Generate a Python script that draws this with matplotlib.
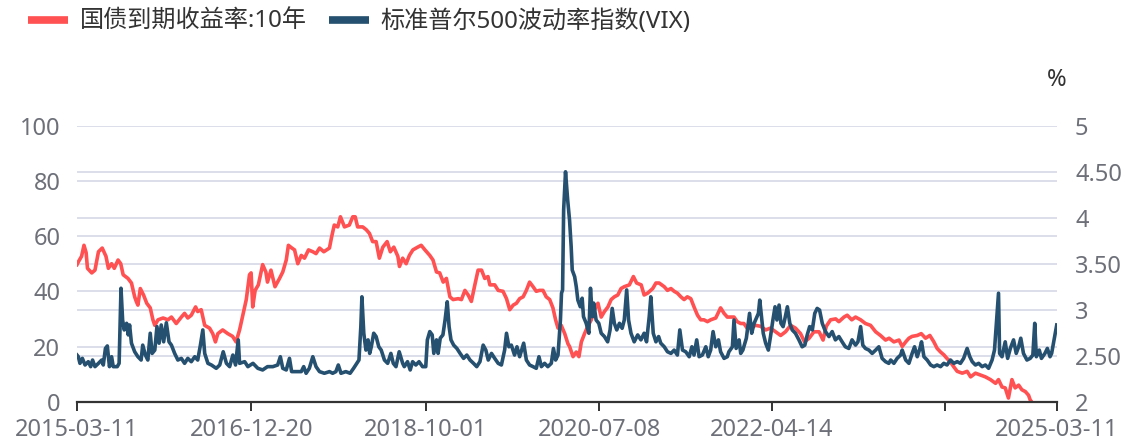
import matplotlib
matplotlib.use("Agg")
import matplotlib.pyplot as plt
import pandas as pd
from matplotlib.lines import Line2D

plt.rcParams["font.family"] = ["Noto Sans", "Noto Sans CJK SC", "DejaVu Sans"]

# China government bond yield, 10Y (%), right axis
yield_dates = [
    "2015-03-11", "2015-03-16", "2015-03-28", "2015-04-06", "2015-04-14", "2015-04-19",
    "2015-05-05", "2015-05-17", "2015-05-30", "2015-06-13", "2015-06-27", "2015-07-06",
    "2015-07-18", "2015-07-28", "2015-08-11", "2015-08-21", "2015-08-30", "2015-09-17",
    "2015-09-30", "2015-10-12", "2015-10-18", "2015-10-24", "2015-11-02", "2015-11-14",
    "2015-11-26", "2015-12-09", "2015-12-19", "2015-12-26",
    "2016-01-07", "2016-01-26", "2016-02-13", "2016-02-26", "2016-03-15", "2016-04-03",
    "2016-04-15", "2016-04-27", "2016-05-10", "2016-05-26", "2016-06-03", "2016-06-16",
    "2016-06-29", "2016-07-17", "2016-07-29", "2016-08-08", "2016-08-17", "2016-09-04",
    "2016-09-23", "2016-10-11", "2016-10-24", "2016-11-06", "2016-11-18", "2016-12-01",
    "2016-12-13", "2016-12-19", "2016-12-25",
    "2017-01-03", "2017-01-15", "2017-01-31", "2017-02-12", "2017-02-18", "2017-03-03",
    "2017-03-18", "2017-04-04", "2017-04-16", "2017-04-29", "2017-05-07", "2017-05-20",
    "2017-05-30", "2017-06-11", "2017-06-24", "2017-07-06", "2017-07-21", "2017-08-06",
    "2017-08-18", "2017-08-31", "2017-09-16", "2017-10-07", "2017-10-15", "2017-10-25",
    "2017-11-07", "2017-11-17", "2017-12-02", "2017-12-20",
    "2018-01-02", "2018-01-11", "2018-01-20", "2018-02-08", "2018-02-21", "2018-03-05",
    "2018-03-17", "2018-03-30", "2018-04-11", "2018-04-24", "2018-05-10", "2018-05-22",
    "2018-06-04", "2018-06-19", "2018-06-25", "2018-07-07", "2018-07-20", "2018-08-01",
    "2018-08-14", "2018-09-01", "2018-09-14", "2018-09-28", "2018-10-16", "2018-10-28",
    "2018-11-10", "2018-11-22", "2018-12-05", "2018-12-17", "2018-12-30",
    "2019-01-11", "2019-01-30", "2019-02-11", "2019-02-24", "2019-03-08", "2019-03-20",
    "2019-04-02", "2019-04-14", "2019-04-27", "2019-05-09", "2019-05-21", "2019-05-28",
    "2019-06-15", "2019-06-28", "2019-07-16", "2019-07-29", "2019-08-10", "2019-08-23",
    "2019-09-04", "2019-09-16", "2019-09-29", "2019-10-11", "2019-10-23", "2019-11-05",
    "2019-11-17", "2019-11-29", "2019-12-12", "2019-12-24",
    "2020-01-06", "2020-01-18", "2020-01-28", "2020-02-06", "2020-02-18", "2020-03-02",
    "2020-03-14", "2020-03-20", "2020-04-02", "2020-04-14", "2020-04-24", "2020-05-03",
    "2020-05-15", "2020-05-27", "2020-06-09", "2020-06-21", "2020-07-04", "2020-07-16",
    "2020-07-28", "2020-08-10", "2020-08-22", "2020-09-03", "2020-09-16", "2020-09-28",
    "2020-10-10", "2020-10-29", "2020-11-13", "2020-11-25", "2020-12-12", "2020-12-23",
    "2021-01-05", "2021-01-24", "2021-02-05", "2021-02-17", "2021-03-08", "2021-03-20",
    "2021-04-02", "2021-04-14", "2021-04-26", "2021-05-09", "2021-05-21", "2021-06-02",
    "2021-06-15", "2021-06-27", "2021-07-10", "2021-07-22", "2021-08-03", "2021-08-16",
    "2021-08-28", "2021-09-16", "2021-10-04", "2021-10-17", "2021-10-29", "2021-11-04",
    "2021-11-23", "2021-12-05", "2021-12-18", "2021-12-30",
    "2022-01-11", "2022-01-24", "2022-02-11", "2022-03-02", "2022-03-21", "2022-04-08",
    "2022-04-27", "2022-05-16", "2022-06-03", "2022-06-22", "2022-07-10", "2022-07-29",
    "2022-08-13", "2022-08-30", "2022-09-17", "2022-10-06", "2022-10-21", "2022-11-02",
    "2022-11-18", "2022-12-07", "2022-12-19",
    "2023-01-07", "2023-01-19", "2023-02-05", "2023-02-19", "2023-03-10", "2023-03-28",
    "2023-04-16", "2023-05-05", "2023-05-23", "2023-06-11", "2023-06-24", "2023-07-12",
    "2023-07-31", "2023-08-12", "2023-08-25", "2023-09-06", "2023-09-18", "2023-10-07",
    "2023-10-22", "2023-11-07", "2023-11-23", "2023-12-08", "2023-12-20",
    "2024-01-02", "2024-01-14", "2024-01-26", "2024-02-08", "2024-02-20", "2024-03-04",
    "2024-03-23", "2024-04-10", "2024-04-23", "2024-05-11", "2024-05-30", "2024-06-17",
    "2024-07-06", "2024-07-25", "2024-08-05", "2024-08-18", "2024-08-30", "2024-09-11",
    "2024-09-24", "2024-10-06", "2024-10-19", "2024-10-31", "2024-11-13", "2024-11-25",
    "2024-12-01", "2024-12-06",
]
yield_values = [
    3.49, 3.52, 3.58, 3.70, 3.62, 3.45,
    3.40, 3.43, 3.63, 3.67, 3.58, 3.45,
    3.50, 3.45, 3.54, 3.50, 3.38, 3.34,
    3.29, 3.14, 3.09, 3.05, 3.23, 3.16,
    3.07, 3.02, 2.89, 2.83,
    2.89, 2.91, 2.89, 2.92, 2.85, 2.92,
    2.96, 2.91, 2.94, 3.03, 2.98, 3.00,
    2.83, 2.80, 2.74, 2.65, 2.74, 2.78,
    2.74, 2.71, 2.65, 2.78, 2.94, 3.11,
    3.38, 3.40, 3.03,
    3.21, 3.27, 3.49, 3.41, 3.30, 3.43,
    3.25, 3.34, 3.41, 3.54, 3.70, 3.67,
    3.65, 3.50, 3.59, 3.56, 3.65, 3.63,
    3.61, 3.67, 3.63, 3.67, 3.79, 3.92,
    3.90, 4.01, 3.90, 3.92,
    4.01, 4.01, 3.90, 3.90, 3.87, 3.83,
    3.74, 3.74, 3.56, 3.68, 3.74, 3.63,
    3.68, 3.58, 3.47, 3.56, 3.50, 3.59,
    3.65, 3.68, 3.70, 3.65, 3.59, 3.54,
    3.41, 3.40, 3.30, 3.34, 3.14,
    3.11, 3.12, 3.11, 3.21, 3.16, 3.09,
    3.27, 3.43, 3.43, 3.34, 3.36, 3.27,
    3.27, 3.21, 3.20, 3.12, 3.00, 3.05,
    3.07, 3.12, 3.14, 3.21, 3.30, 3.25,
    3.20, 3.21, 3.21, 3.14,
    3.11, 3.02, 2.89, 2.80, 2.83, 2.74,
    2.63, 2.60, 2.49, 2.54, 2.49, 2.65,
    2.74, 2.82, 2.89, 3.00, 3.07, 2.92,
    2.98, 3.03, 3.11, 3.14, 3.16, 3.23,
    3.25, 3.27, 3.36, 3.29, 3.27, 3.16,
    3.18, 3.23, 3.29, 3.29, 3.25, 3.21,
    3.23, 3.20, 3.18, 3.14, 3.11, 3.14,
    3.12, 3.03, 2.94, 2.89, 2.89, 2.87,
    2.89, 2.91, 3.02, 2.96, 2.92, 2.92,
    2.92, 2.87, 2.85, 2.85,
    2.80, 2.80, 2.83, 2.82, 2.78, 2.80,
    2.76, 2.72, 2.76, 2.83, 2.80, 2.74,
    2.65, 2.69, 2.76, 2.76, 2.67, 2.82,
    2.89, 2.90, 2.87,
    2.92, 2.94, 2.89, 2.92, 2.89, 2.85,
    2.83, 2.76, 2.72, 2.67, 2.69, 2.65,
    2.67, 2.60, 2.65, 2.69, 2.71, 2.72,
    2.74, 2.69, 2.72, 2.65, 2.58,
    2.54, 2.51, 2.47, 2.43, 2.38, 2.33,
    2.31, 2.33, 2.27, 2.31, 2.29, 2.27,
    2.24, 2.20, 2.24, 2.16, 2.15, 2.04,
    2.24, 2.15, 2.18, 2.13, 2.11, 2.07,
    2.02, 2.00,
]

# CBOE S&P 500 volatility index, left axis
vix_dates = [
    "2015-03-11", "2015-03-16", "2015-03-22", "2015-03-31", "2015-04-10", "2015-04-22",
    "2015-05-01", "2015-05-08", "2015-05-17", "2015-05-30", "2015-06-11", "2015-06-17",
    "2015-06-25", "2015-07-02", "2015-07-10", "2015-07-18", "2015-07-24", "2015-08-08",
    "2015-08-15", "2015-08-22", "2015-08-28", "2015-09-03", "2015-09-12", "2015-09-18",
    "2015-09-23", "2015-09-30", "2015-10-12", "2015-10-24", "2015-11-05", "2015-11-11",
    "2015-11-21", "2015-11-30", "2015-12-09", "2015-12-16", "2015-12-26",
    "2016-01-03", "2016-01-11", "2016-01-19", "2016-01-28", "2016-02-07", "2016-02-17",
    "2016-02-26", "2016-03-09", "2016-03-21", "2016-04-03", "2016-04-15", "2016-04-27",
    "2016-05-10", "2016-05-23", "2016-06-03", "2016-06-13", "2016-06-22", "2016-06-29",
    "2016-07-11", "2016-07-24", "2016-08-11", "2016-08-24", "2016-09-06", "2016-09-18",
    "2016-09-30", "2016-10-12", "2016-10-22", "2016-11-01", "2016-11-06", "2016-11-25",
    "2016-12-07", "2016-12-26",
    "2017-01-13", "2017-01-31", "2017-02-18", "2017-03-10", "2017-03-28", "2017-04-07",
    "2017-04-16", "2017-04-29", "2017-05-11", "2017-05-19", "2017-06-05", "2017-06-24",
    "2017-07-03", "2017-07-12", "2017-07-24", "2017-08-06", "2017-08-18", "2017-08-31",
    "2017-09-18", "2017-10-07", "2017-10-19", "2017-10-31", "2017-11-09", "2017-11-19",
    "2017-12-07", "2017-12-23",
    "2018-01-05", "2018-01-25", "2018-02-01", "2018-02-05", "2018-02-12", "2018-02-20",
    "2018-02-28", "2018-03-06", "2018-03-12", "2018-03-21", "2018-03-30", "2018-04-09",
    "2018-04-18", "2018-04-30", "2018-05-12", "2018-05-24", "2018-06-02", "2018-06-12",
    "2018-06-24", "2018-07-07", "2018-07-13", "2018-07-25", "2018-08-04", "2018-08-13",
    "2018-08-25", "2018-09-06", "2018-09-19", "2018-10-01", "2018-10-07", "2018-10-16",
    "2018-10-25", "2018-10-31", "2018-11-10", "2018-11-16", "2018-11-24", "2018-12-04",
    "2018-12-12", "2018-12-20", "2018-12-27",
    "2019-01-03", "2019-01-13", "2019-01-25", "2019-02-06", "2019-02-19", "2019-03-03",
    "2019-03-15", "2019-03-28", "2019-04-09", "2019-04-21", "2019-05-03", "2019-05-13",
    "2019-05-22", "2019-06-03", "2019-06-15", "2019-06-28", "2019-07-10", "2019-07-22",
    "2019-07-29", "2019-08-07", "2019-08-16", "2019-08-28", "2019-09-06", "2019-09-16",
    "2019-10-01", "2019-10-11", "2019-10-23", "2019-11-05", "2019-11-17", "2019-11-27",
    "2019-12-06", "2019-12-18", "2019-12-30",
    "2020-01-12", "2020-01-20", "2020-01-28", "2020-02-06", "2020-02-15", "2020-02-19",
    "2020-02-23", "2020-02-27", "2020-03-05", "2020-03-13", "2020-03-20", "2020-03-26",
    "2020-03-30", "2020-04-08", "2020-04-14", "2020-04-20", "2020-04-29", "2020-05-06",
    "2020-05-11", "2020-05-21", "2020-05-31", "2020-06-06", "2020-06-13", "2020-06-18",
    "2020-06-27", "2020-07-07", "2020-07-16", "2020-07-28", "2020-08-09", "2020-08-18",
    "2020-08-26", "2020-09-03", "2020-09-12", "2020-09-22", "2020-10-02", "2020-10-10",
    "2020-10-19", "2020-10-26", "2020-11-04", "2020-11-16", "2020-11-29", "2020-12-11",
    "2020-12-23",
    "2021-01-01", "2021-01-11", "2021-01-17", "2021-01-26", "2021-02-05", "2021-02-15",
    "2021-02-23", "2021-03-08", "2021-03-20", "2021-04-02", "2021-04-14", "2021-04-26",
    "2021-05-05", "2021-05-15", "2021-05-27", "2021-06-09", "2021-06-19", "2021-06-27",
    "2021-07-07", "2021-07-16", "2021-07-28", "2021-08-10", "2021-08-19", "2021-08-28",
    "2021-09-06", "2021-09-16", "2021-09-26", "2021-10-04", "2021-10-17", "2021-10-29",
    "2021-11-04", "2021-11-17", "2021-11-23", "2021-12-01", "2021-12-12", "2021-12-18",
    "2021-12-26",
    "2022-01-08", "2022-01-20", "2022-01-28", "2022-02-06", "2022-02-14", "2022-02-22",
    "2022-02-27", "2022-03-06", "2022-03-12", "2022-03-21", "2022-03-31", "2022-04-08",
    "2022-04-17", "2022-04-25", "2022-05-02", "2022-05-10", "2022-05-17", "2022-05-25",
    "2022-06-01", "2022-06-10", "2022-06-19", "2022-06-28", "2022-07-10", "2022-07-23",
    "2022-08-04", "2022-08-14", "2022-08-23", "2022-09-01", "2022-09-11", "2022-09-20",
    "2022-09-29", "2022-10-08", "2022-10-18", "2022-10-30", "2022-11-12", "2022-11-24",
    "2022-12-06", "2022-12-19", "2022-12-31",
    "2023-01-12", "2023-01-25", "2023-02-06", "2023-02-19", "2023-02-28", "2023-03-10",
    "2023-03-18", "2023-03-28", "2023-04-10", "2023-04-22", "2023-05-05", "2023-05-17",
    "2023-05-29", "2023-06-11", "2023-06-23", "2023-06-30", "2023-07-12", "2023-07-24",
    "2023-08-06", "2023-08-12", "2023-08-25", "2023-09-06", "2023-09-18", "2023-09-27",
    "2023-10-07", "2023-10-17", "2023-10-23", "2023-11-01", "2023-11-13", "2023-11-26",
    "2023-12-08", "2023-12-20",
    "2024-01-02", "2024-01-14", "2024-01-26", "2024-02-08", "2024-02-20", "2024-03-04",
    "2024-03-16", "2024-03-28", "2024-04-10", "2024-04-20", "2024-04-29", "2024-05-11",
    "2024-05-23", "2024-06-05", "2024-06-17", "2024-06-29", "2024-07-12", "2024-07-21",
    "2024-08-05", "2024-08-09", "2024-08-18", "2024-08-30", "2024-09-08", "2024-09-18",
    "2024-09-30", "2024-10-10", "2024-10-19", "2024-10-27", "2024-11-06", "2024-11-19",
    "2024-12-01", "2024-12-11", "2024-12-18", "2024-12-24",
    "2025-01-04", "2025-01-12", "2025-01-25", "2025-02-03", "2025-02-13", "2025-02-19",
    "2025-02-28", "2025-03-10",
]
vix_values = [
    16.9, 16.3, 13.9, 15.7, 13.3, 14.5,
    12.7, 15.1, 12.7, 13.9, 15.1, 13.3,
    19.3, 20.2, 12.7, 16.3, 12.7, 12.7,
    13.9, 41.1, 29.6, 26.0, 28.4, 24.2,
    27.8, 21.2, 18.1, 16.3, 15.1, 20.5,
    16.9, 15.1, 24.8, 17.5, 18.7,
    27.2, 21.2, 27.8, 21.7, 28.6, 21.7,
    20.5, 17.5, 15.1, 15.7, 13.9, 15.7,
    14.5, 16.3, 15.1, 20.5, 26.0, 17.5,
    13.9, 13.3, 12.1, 13.3, 18.1, 13.9,
    12.7, 16.9, 13.3, 22.4, 13.9, 14.5,
    12.7, 13.9,
    12.1, 11.5, 12.7, 12.7, 13.3, 16.3,
    12.1, 11.5, 15.7, 10.9, 10.9, 10.9,
    12.7, 10.3, 12.1, 16.3, 12.7, 10.9,
    10.3, 10.9, 10.3, 10.9, 13.3, 10.3,
    10.9, 10.3,
    12.1, 15.1, 27.2, 38.0, 24.8, 18.7,
    22.4, 17.5, 19.9, 24.8, 23.6, 19.9,
    18.7, 15.1, 13.9, 17.5, 13.9, 12.7,
    18.1, 13.9, 12.7, 14.5, 11.5, 14.5,
    13.3, 14.5, 12.7, 12.7, 22.4, 25.4,
    24.2, 17.5, 22.4, 17.5, 23.0, 24.2,
    29.6, 36.2, 27.2,
    22.4, 20.5, 19.3, 17.5, 15.7, 16.9,
    15.1, 13.9, 12.7, 14.5, 20.5, 18.7,
    15.1, 17.5, 15.7, 13.9, 13.3, 18.7,
    24.8, 19.9, 20.5, 16.9, 19.9, 16.3,
    21.2, 15.1, 13.3, 12.7, 12.1, 16.3,
    12.7, 13.9, 12.7,
    13.9, 19.3, 15.1, 16.9, 29.6, 39.3,
    40.5, 69.5, 83.3, 73.1, 65.8, 56.2,
    47.7, 45.3, 41.7, 36.8, 34.4, 37.5,
    30.8, 28.4, 24.8, 41.1, 30.8, 35.7,
    29.6, 28.4, 24.8, 23.6, 21.7, 26.0,
    33.8, 28.4, 26.0, 28.4, 26.6, 29.6,
    40.5, 29.6, 24.8, 21.7, 24.2, 22.4,
    24.8,
    21.7, 30.8, 38.0, 24.8, 21.7, 23.6,
    21.2, 19.9, 18.1, 17.5, 18.7, 16.9,
    26.0, 18.7, 18.1, 16.3, 19.9, 16.9,
    22.4, 16.3, 16.9, 19.9, 16.3, 18.7,
    25.4, 19.9, 22.4, 18.1, 15.7, 16.3,
    18.1, 19.9, 29.6, 19.3, 22.4, 17.5,
    18.7,
    23.0, 32.0, 24.8, 28.4, 30.2, 32.0,
    36.8, 30.2, 24.8, 21.2, 18.7, 23.6,
    29.6, 34.4, 29.6, 35.0, 28.4, 27.2,
    30.2, 34.4, 28.4, 26.0, 24.8, 22.4,
    19.9, 20.5, 24.2, 27.2, 26.0, 32.0,
    33.8, 33.2, 28.4, 25.4, 23.6, 25.4,
    22.4, 23.6, 21.7,
    19.9, 19.3, 22.4, 20.5, 21.7, 27.2,
    20.5, 19.3, 18.7, 17.5, 18.7, 19.9,
    15.7, 14.5, 13.9, 15.1, 13.9, 15.7,
    16.9, 18.7, 15.1, 13.9, 17.5, 19.9,
    16.3, 19.3, 21.7, 16.3, 15.1, 13.3,
    12.7, 13.3,
    12.7, 13.9, 13.3, 15.1, 13.9, 14.5,
    13.9, 15.7, 19.3, 16.3, 14.5, 13.3,
    13.9, 12.7, 13.3, 12.1, 15.1, 18.7,
    39.3, 17.5, 16.3, 21.7, 15.7, 19.3,
    22.4, 17.5, 19.9, 23.0, 17.5, 15.1,
    15.7, 16.9, 28.4, 16.3,
    18.7, 15.7, 17.5, 19.3, 16.3, 17.5,
    22.4, 27.8,
]

x_ticks = ["2015-03-11", "2016-12-20", "2018-10-01", "2020-07-08",
           "2022-04-14", "2024-01-20", "2025-03-11"]
x_tick_labels = ["2015-03-11", "2016-12-20", "2018-10-01", "2020-07-08",
                 "2022-04-14", "", "2025-03-11"]
vix_ticks = [0, 20, 40, 60, 80, 100]
yield_ticks = [2, 2.5, 3, 3.5, 4, 4.5, 5]
yield_tick_labels = ["2", "2.50", "3", "3.50", "4", "4.50", "5"]

series_names = ["国债到期收益率:10年", "标准普尔500波动率指数(VIX)"]

RED = "#FF5052"
BLUE = "#26506F"
GRID = "#DCDFEA"
LABEL = "#6E7079"
DARK = "#333333"
FS = 17

W, H = 1127, 441
fig = plt.figure(figsize=(W / 100, H / 100), dpi=100)
rect = [77 / W, 1 - 401.7 / H, 980 / W, 276 / H]

# base axes: left scale labels and its grid
ax = fig.add_axes(rect)
ax.set_ylim(0, 100)
ax.set_yticks(vix_ticks)
ax.yaxis.grid(True, color=GRID, linewidth=1.4)
ax.set_axisbelow(True)
ax.tick_params(axis="y", length=0, pad=12, labelsize=FS, labelcolor=LABEL)
for s in ax.spines.values():
    s.set_visible(False)

# right axis: 10Y yield
ax_r = ax.twinx()
ax_r.set_ylim(2, 5)
ax_r.set_yticks(yield_ticks)
ax_r.set_yticklabels(yield_tick_labels)
ax_r.yaxis.grid(True, color=GRID, linewidth=1.4)
ax_r.set_axisbelow(True)
ax_r.tick_params(axis="y", length=0, pad=13, labelsize=FS, labelcolor=LABEL)
for s in ax_r.spines.values():
    s.set_visible(False)
ax_r.plot(pd.to_datetime(yield_dates), yield_values, color=RED, linewidth=2.6,
          solid_joinstyle="round", zorder=3)

# top layer on the left scale: VIX line and the date axis
ax_b = ax.twinx()
ax_b.set_ylim(0, 100)
ax_b.yaxis.set_visible(False)
ax.xaxis.set_visible(False)
ax_b.xaxis.set_visible(True)
for name, s in ax_b.spines.items():
    s.set_visible(name == "bottom")
ax_b.spines["bottom"].set_color(DARK)
ax_b.spines["bottom"].set_linewidth(1.6)
ax_b.plot(pd.to_datetime(vix_dates), vix_values, color=BLUE, linewidth=2.6,
          solid_joinstyle="round", zorder=3)

ax_b.set_xlim(pd.Timestamp("2015-03-11"), pd.Timestamp("2025-03-11"))
ax_b.set_xticks(pd.to_datetime(x_ticks))
ax_b.set_xticklabels(x_tick_labels)
ax_b.tick_params(axis="x", direction="out", length=6.5, width=1.4, color=DARK,
                 pad=5, labelsize=FS, labelcolor=LABEL)

fig.text(1057 / W, 1 - 80 / H, "%", ha="center", va="center",
         fontsize=FS, color=DARK)

handles = [Line2D([], [], color=RED, linewidth=5.5, solid_capstyle="butt"),
           Line2D([], [], color=BLUE, linewidth=5.5, solid_capstyle="butt")]
fig.legend(handles, series_names, loc="center left",
           bbox_to_anchor=(28 / W, 1 - 22 / H), ncol=2, frameon=False,
           fontsize=17.4, handlelength=1.65, handletextpad=0.5,
           columnspacing=0.9, borderpad=0, borderaxespad=0,
           labelcolor=DARK)

fig.savefig("out.png", dpi=100)
